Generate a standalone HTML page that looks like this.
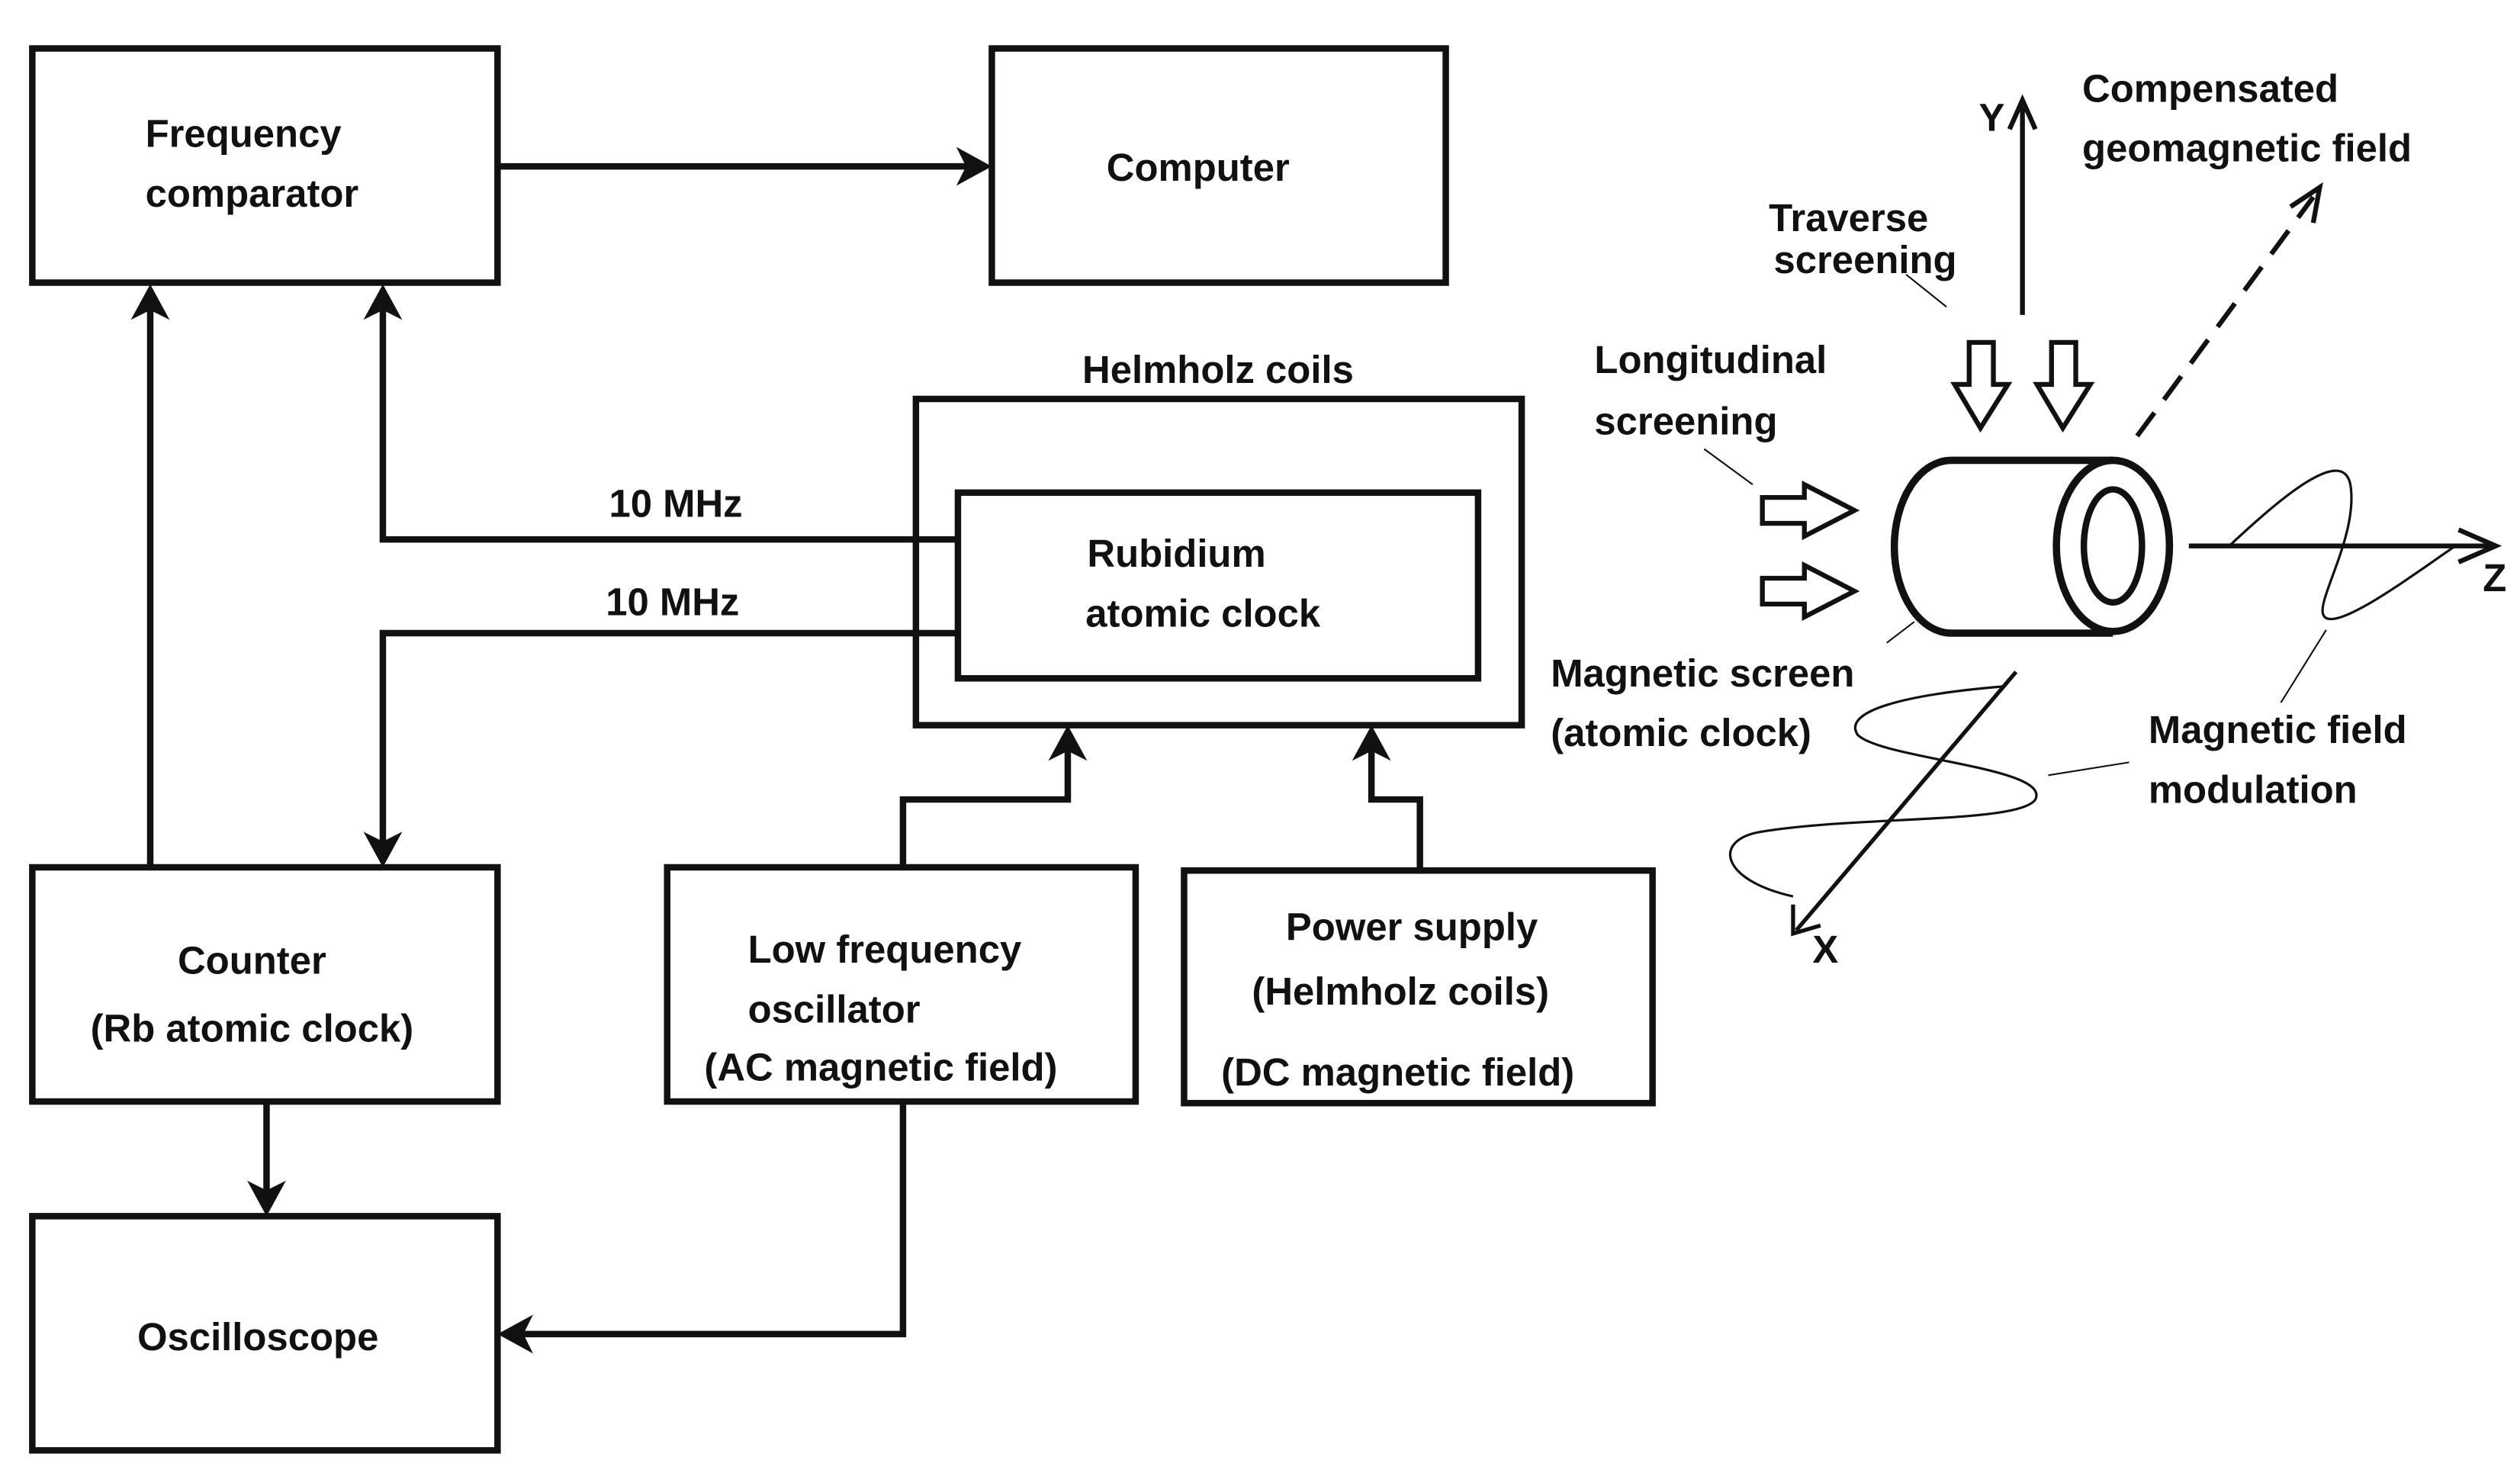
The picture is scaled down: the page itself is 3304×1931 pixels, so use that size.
<!DOCTYPE html>
<html><head><meta charset="utf-8"><style>
html,body{margin:0;padding:0;background:#fff;}
svg{display:block;}
text{font-family:"Liberation Sans",sans-serif;font-weight:bold;font-size:24px;fill:#111;}
</style></head><body>
<svg width="3304" height="1931" viewBox="0 0 1560 912" preserveAspectRatio="none" xmlns="http://www.w3.org/2000/svg">
<g fill="none" stroke="#111" stroke-width="4">
<rect x="20" y="30" width="288" height="145"/>
<rect x="614" y="30" width="281" height="145"/>
<rect x="567" y="247" width="375" height="202"/>
<rect x="593" y="305" width="322" height="115"/>
<rect x="20" y="537" width="288" height="145"/>
<rect x="20" y="753" width="288" height="145"/>
<rect x="413" y="537" width="290" height="145"/>
<rect x="733" y="539" width="290" height="144"/>
<polyline points="308,103 605,103"/>
<polyline points="593,334 237,334 237,186"/>
<polyline points="593,392 237,392 237,527"/>
<polyline points="93,537 93,186"/>
<polyline points="165,682 165,743"/>
<polyline points="559,537 559,495 661,495 661,460"/>
<polyline points="879,539 879,495 849,495 849,460"/>
<polyline points="559,682 559,826 320,826"/>
</g>
<g fill="#111">
<polygon points="614,103 592,91 598,103 592,115"/>
<polygon points="237,176 225,198 237,192 249,198"/>
<polygon points="93,176 81,198 93,192 105,198"/>
<polygon points="237,537 225,515 237,521 249,515"/>
<polygon points="165,753 153,731 165,737 177,731"/>
<polygon points="661,449 649,471 661,465 673,471"/>
<polygon points="849,449 837,471 849,465 861,471"/>
<polygon points="308,826 330,814 324,826 330,838"/>
</g>
<text x="90" y="91">Frequency</text>
<text x="90" y="128">comparator</text>
<text x="685" y="112">Computer</text>
<text x="670" y="237">Helmholz coils</text>
<text x="377" y="320">10 MHz</text>
<text x="375" y="381">10 MHz</text>
<text x="673" y="351">Rubidium</text>
<text x="672" y="388">atomic clock</text>
<text x="110" y="603">Counter</text>
<text x="56" y="645">(Rb atomic clock)</text>
<text x="85" y="836">Oscilloscope</text>
<text x="463" y="596">Low frequency</text>
<text x="463" y="633">oscillator</text>
<text x="436" y="669">(AC magnetic field)</text>
<text x="796" y="582">Power supply</text>
<text x="775" y="622">(Helmholz coils)</text>
<text x="756" y="672">(DC magnetic field)</text>
<g fill="none" stroke="#111">
<line x1="1252" y1="195" x2="1252" y2="66" stroke-width="3"/>
<polyline points="1244,80 1252,62 1260,80" stroke-width="3"/>
<line x1="1355" y1="338" x2="1545" y2="338" stroke-width="3"/>
<polyline points="1522,328 1545,338 1522,348" stroke-width="3"/>
<line x1="1248" y1="416" x2="1112" y2="576" stroke-width="2.5"/>
<polyline points="1110,560 1110,578 1127,573" stroke-width="2.5"/>
<line x1="1323" y1="270" x2="1432" y2="122" stroke-width="3" stroke-dasharray="18,10"/>
<polyline points="1418,128 1436,116 1432,138" stroke-width="3"/>
<path d="M1208,285 L1308,285 M1208,392 L1308,392" stroke-width="4.5"/>
<path d="M1208,285 A35,53 0 0 0 1208,392" stroke-width="4.5"/>
<ellipse cx="1308" cy="338" rx="35" ry="53" stroke-width="4.5"/>
<ellipse cx="1308" cy="338" rx="18" ry="35" stroke-width="4"/>
<polygon points="1219,212 1234,212 1234,238 1243,238 1226,265 1210,238 1219,238" stroke-width="3"/>
<polygon points="1270,212 1285,212 1285,238 1294,238 1277,265 1261,238 1270,238" stroke-width="3"/>
<polygon points="1091,308 1117,308 1117,300 1148,316 1117,332 1117,324 1091,324" stroke-width="3"/>
<polygon points="1091,358 1117,358 1117,350 1148,366 1117,382 1117,374 1091,374" stroke-width="3"/>
<path d="M1380,338 C1410,310 1450,275 1455,300 C1460,330 1435,370 1438,380 C1442,395 1495,355 1520,338" stroke-width="1.5"/>
<path d="M1240,425 C1180,430 1140,440 1150,455 C1165,470 1270,475 1260,495 C1250,510 1150,505 1090,515 C1060,520 1065,545 1110,555" stroke-width="1.5"/>
<line x1="1205" y1="190" x2="1180" y2="170" stroke-width="1"/>
<line x1="1085" y1="300" x2="1055" y2="278" stroke-width="1"/>
<line x1="1185" y1="385" x2="1168" y2="398" stroke-width="1"/>
<line x1="1440" y1="390" x2="1412" y2="435" stroke-width="1"/>
<line x1="1268" y1="480" x2="1318" y2="472" stroke-width="1"/>
</g>
<text x="1225" y="81">Y</text>
<text x="1537" y="366">Z</text>
<text x="1122" y="596">X</text>
<text x="1289" y="63">Compensated</text>
<text x="1289" y="100">geomagnetic field</text>
<text x="1095" y="143">Traverse</text>
<text x="1098" y="169">screening</text>
<text x="987" y="231">Longitudinal</text>
<text x="987" y="269">screening</text>
<text x="960" y="425">Magnetic screen</text>
<text x="960" y="462">(atomic clock)</text>
<text x="1330" y="460">Magnetic field</text>
<text x="1330" y="497">modulation</text>
</svg>
</body></html>
